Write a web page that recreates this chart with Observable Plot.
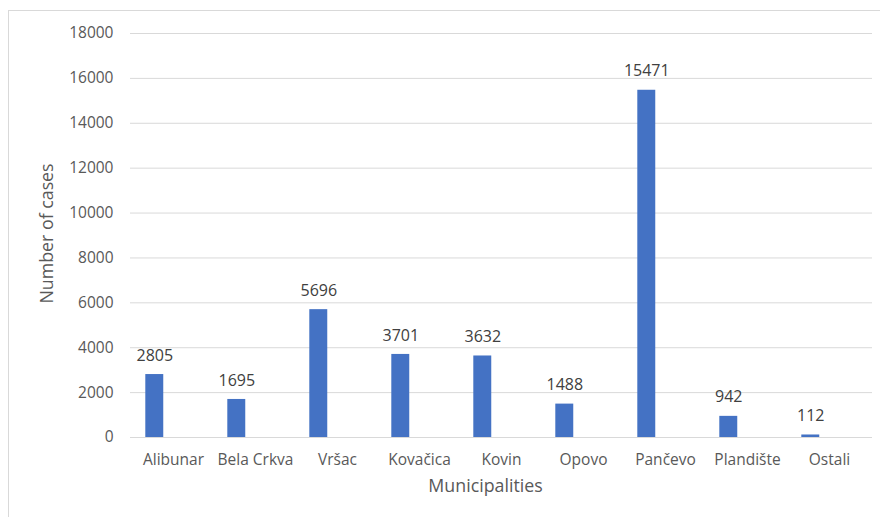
<!DOCTYPE html>
<html>
<head>
<meta charset="utf-8">
<script src="https://cdn.jsdelivr.net/npm/d3@7"></script>
<script src="https://cdn.jsdelivr.net/npm/@observablehq/plot@0.6"></script>
<style>
  html, body { margin: 0; padding: 0; background: #fff; overflow: hidden; }
  #wrap { position: relative; width: 880px; height: 517px; }
  #border {
    position: absolute; left: 8px; top: 10px; width: 900px; height: 540px;
    border: 1px solid #d9d9d9; box-sizing: border-box; pointer-events: none;
  }
  #chart { position: absolute; left: 0; top: 0; }
</style>
</head>
<body>
<div id="wrap">
  <div id="chart"></div>
  <div id="border"></div>
</div>
<script>
// Cases per municipality
const municipalities = ["Alibunar", "Bela Crkva", "Vršac", "Kovačica", "Kovin", "Opovo", "Pančevo", "Plandište", "Ostali"];
const cases = [2805, 1695, 5696, 3701, 3632, 1488, 15471, 942, 112];
const yTicks = [0, 2000, 4000, 6000, 8000, 10000, 12000, 14000, 16000, 18000];
const xTitle = "Municipalities";
const yTitle = "Number of cases";

const rows = municipalities.map((m, i) => ({municipality: m, cases: cases[i]}));

const W = 880, H = 517;
const mL = 130, mR = 8, mT = 33, mB = 80;
const band = (W - mL - mR) / municipalities.length;
// each bar sits in the left part of its category slot
const barStart = 13.3, barEnd = 31.7;
const barMid = (barStart + barEnd) / 2;

const font = "'Open Sans', sans-serif";
const grey = "#595959";

const chart = Plot.plot({
  width: W,
  height: H,
  marginLeft: mL,
  marginRight: mR,
  marginTop: mT,
  marginBottom: mB,
  style: {fontFamily: font, fontSize: "15.5px", color: grey, background: "#fff"},
  x: {domain: municipalities, padding: 0, label: null},
  y: {domain: [0, 18000], label: null},
  marks: [
    Plot.gridY(yTicks, {stroke: "#d9d9d9", strokeOpacity: 1, strokeWidth: 1}),
    Plot.axisY(yTicks, {tickSize: 0, tickPadding: 17, tickFormat: d => String(d), fill: grey, fontSize: 15.5}),
    Plot.axisX({tickSize: 0, tickPadding: 16, fill: grey, fontSize: 15.5, label: null}),
    Plot.barY(rows, {
      x: "municipality", y: "cases", fill: "#4472C4",
      insetLeft: barStart, insetRight: band - barEnd
    }),
    Plot.text(rows, {
      x: "municipality", y: "cases", text: d => String(d.cases),
      dx: barMid - band / 2, dy: -19, fill: "#404040", fontSize: 16
    }),
    Plot.text([xTitle], {
      frameAnchor: "bottom", text: d => d, dx: -16, dy: 54,
      fill: grey, fontSize: 17.8
    }),
    Plot.text([yTitle], {
      frameAnchor: "left", text: d => d, rotate: -90, textAnchor: "middle",
      dx: -83, dy: -2, fill: grey, fontSize: 17.8
    })
  ]
});

document.getElementById("chart").appendChild(chart);
</script>
</body>
</html>
